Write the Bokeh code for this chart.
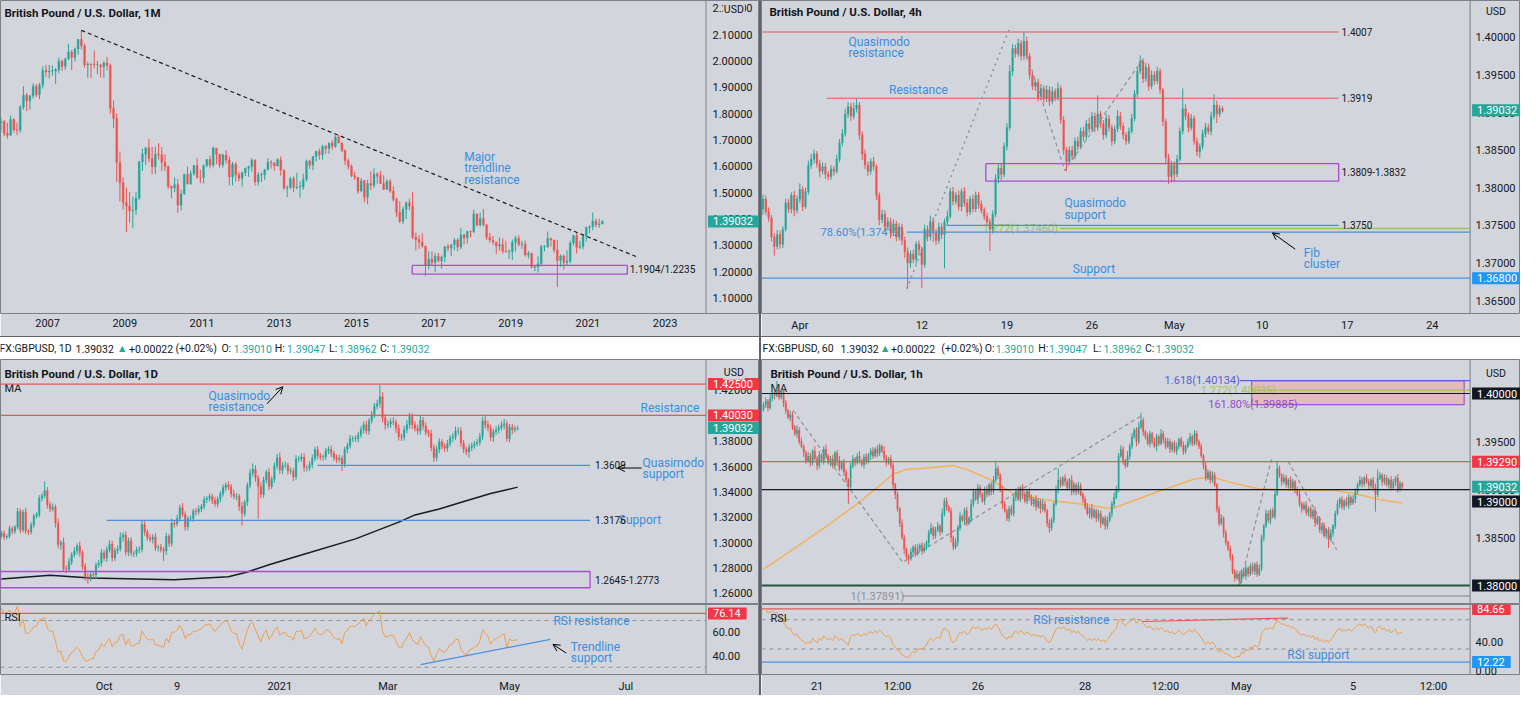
import numpy as np
from bokeh.plotting import figure
from bokeh.models import (Range1d, FixedTicker, PrintfTickFormatter, Label, Arrow,
                          OpenHead, ColumnDataSource, Spacer, Span)
from bokeh.layouts import row, column
from bokeh.core.properties import value
from bokeh.embed import file_html
from bokeh.resources import INLINE

# ============================ DATA ============================
# --- Monthly GBP/USD, Oct 2005 .. May 2021 (wicks in 0.001) ---
m_open0 = 1.766
m_close = [1.770, 1.725, 1.718,
           1.778, 1.739, 1.737, 1.825, 1.870, 1.849, 1.868, 1.904, 1.872, 1.909, 1.965, 1.958,
           1.962, 1.962, 1.967, 1.999, 1.979, 2.007, 2.034, 2.013, 2.045, 2.082, 2.058, 1.985,
           1.988, 1.986, 1.985, 1.985, 1.978, 1.992, 1.983, 1.820, 1.781, 1.614, 1.538, 1.462,
           1.449, 1.431, 1.434, 1.479, 1.617, 1.646, 1.670, 1.629, 1.598, 1.646, 1.644, 1.615,
           1.598, 1.523, 1.517, 1.530, 1.452, 1.495, 1.569, 1.534, 1.572, 1.603, 1.558, 1.557,
           1.603, 1.626, 1.604, 1.669, 1.646, 1.605, 1.643, 1.624, 1.559, 1.608, 1.568, 1.554,
           1.576, 1.592, 1.599, 1.623, 1.541, 1.568, 1.568, 1.587, 1.615, 1.613, 1.601, 1.625,
           1.586, 1.517, 1.519, 1.553, 1.519, 1.521, 1.521, 1.550, 1.619, 1.604, 1.637, 1.656,
           1.644, 1.675, 1.667, 1.688, 1.676, 1.711, 1.688, 1.660, 1.621, 1.600, 1.564, 1.558,
           1.506, 1.545, 1.483, 1.535, 1.528, 1.571, 1.562, 1.535, 1.512, 1.543, 1.505, 1.474,
           1.425, 1.391, 1.436, 1.461, 1.449, 1.331, 1.322, 1.312, 1.297, 1.224, 1.248, 1.234,
           1.258, 1.241, 1.255, 1.295, 1.289, 1.302, 1.320, 1.293, 1.340, 1.328, 1.352, 1.351,
           1.419, 1.377, 1.402, 1.377, 1.330, 1.320, 1.312, 1.297, 1.303, 1.277, 1.275, 1.275,
           1.311, 1.326, 1.303, 1.304, 1.263, 1.270, 1.216, 1.217, 1.230, 1.294, 1.294, 1.326,
           1.320, 1.282, 1.242, 1.259, 1.234, 1.240, 1.309, 1.337, 1.292, 1.295, 1.334, 1.367,
           1.370, 1.392, 1.378, 1.381, 1.3903]
m_wick_up = [15, 6, 40,
             15, 5, 27, 8, 34, 8, 2, 11, 8, 8, 15, 20,
             23, 21, 6, 14, 7, 6, 31, 8, 6, 1, 34, 8,
             9, 4, 54, 15, 5, 8, 24, 7, 30, 20, 42, 20,
             57, 53, 51, 23, 3, 20, 1, 34, 45, 28, 42, 29,
             31, 6, 4, 28, 22, 16, 3, 30, 12, 2, 27, 29,
             3, 2, 14, 6, 1, 1, 5, 19, 14, 9, 8, 10,
             3, 3, 3, 7, 4, 10, 9, 3, 16, 8, 1, 6,
             13, 1, 8, 7, 9, 54, 22, 22, 6, 6, 1, 4,
             11, 7, 5, 2, 11, 7, 8, 4, 4, 8, 7, 15,
             1, 10, 3, 14, 46, 22, 6, 20, 30, 8, 8, 19,
             7, 42, 10, 6, 16, 53, 17, 15, 33, 1, 29, 29,
             12, 13, 6, 1, 10, 1, 7, 7, 26, 3, 3, 4,
             16, 2, 22, 36, 3, 17, 16, 2, 27, 23, 40, 9,
             11, 9, 12, 13, 14, 8, 1, 8, 28, 7, 6, 26,
             2, 2, 38, 6, 6, 41, 8, 2, 11, 22, 6, 4,
             6, 32, 10, 20, 5]
m_wick_dn = [34, 11, 13,
             2, 11, 19, 9, 10, 40, 34, 10, 9, 17, 14, 18,
             25, 18, 49, 14, 17, 12, 4, 48, 15, 21, 14, 11,
             49, 50, 12, 35, 41, 42, 19, 20, 36, 74, 72, 27,
             99, 45, 66, 19, 7, 35, 41, 14, 28, 27, 18, 32,
             16, 8, 39, 15, 29, 19, 3, 4, 5, 7, 5, 21,
             22, 7, 12, 8, 38, 11, 10, 14, 32, 32, 26, 12,
             31, 13, 32, 19, 14, 14, 28, 20, 1, 22, 18, 2,
             21, 6, 34, 6, 18, 6, 40, 11, 8, 14, 19, 19,
             19, 19, 20, 20, 13, 6, 1, 6, 16, 12, 5, 10,
             11, 4, 20, 27, 19, 11, 30, 2, 2, 1, 6, 9,
             17, 7, 11, 36, 16, 8, 42, 26, 6, 40, 16, 14,
             36, 6, 30, 19, 12, 30, 21, 16, 8, 25, 22, 21,
             5, 6, 6, 6, 10, 10, 11, 31, 18, 8, 3, 27,
             31, 34, 7, 17, 7, 13, 4, 15, 21, 10, 17, 4,
             25, 10, 101, 25, 27, 9, 8, 10, 24, 6, 10, 20,
             22, 13, 11, 11, 2]
m_year_ticks = [2007, 2009, 2011, 2013, 2015, 2017, 2019, 2021, 2023]
m_price_ticks = [1.1, 1.2, 1.3, 1.4, 1.5, 1.6, 1.7, 1.8, 1.9, 2.0, 2.1, 2.2]
m_zone = (1.1904, 1.2235)
m_trend_end = (2022.29, 1.2546)

# --- 4h GBP/USD, 29 Mar .. 6 May 2021 (wicks in pips) ---
h4_open0 = 1.3772
h4_close = [1.3785, 1.3768, 1.3760, 1.3735, 1.3722, 1.3738, 1.3725, 1.3745, 1.3780, 1.3772,
            1.3790, 1.3770, 1.3785, 1.3798, 1.3775, 1.3795, 1.3830, 1.3838, 1.3845, 1.3832,
            1.3822, 1.3828, 1.3818, 1.3815, 1.3825, 1.3822, 1.3838, 1.3860, 1.3872, 1.3898,
            1.3908, 1.3895, 1.3905, 1.3910, 1.3870, 1.3845, 1.3830, 1.3822, 1.3835, 1.3828,
            1.3790, 1.3758, 1.3765, 1.3748, 1.3755, 1.3740, 1.3752, 1.3735, 1.3748, 1.3730,
            1.3715, 1.3700, 1.3712, 1.3705, 1.3725, 1.3718, 1.3698, 1.3745, 1.3735, 1.3755,
            1.3740, 1.3730, 1.3748, 1.3738, 1.3755, 1.3762, 1.3795, 1.3782, 1.3790, 1.3775,
            1.3795, 1.3780, 1.3768, 1.3785, 1.3772, 1.3790, 1.3778, 1.3770, 1.3762, 1.3755,
            1.3745, 1.3765, 1.3812, 1.3826, 1.3818, 1.3855, 1.3880, 1.3955, 1.3985, 1.3978,
            1.3992, 1.3975, 1.3995, 1.3975, 1.3950, 1.3935, 1.3940, 1.3920, 1.3932, 1.3918,
            1.3930, 1.3915, 1.3928, 1.3920, 1.3932, 1.3890, 1.3850, 1.3835, 1.3850, 1.3842,
            1.3862, 1.3855, 1.3875, 1.3868, 1.3885, 1.3878, 1.3895, 1.3880, 1.3898, 1.3885,
            1.3870, 1.3892, 1.3880, 1.3862, 1.3878, 1.3895, 1.3882, 1.3870, 1.3862, 1.3875,
            1.3892, 1.3925, 1.3955, 1.3968, 1.3945, 1.3960, 1.3935, 1.3950, 1.3942, 1.3955,
            1.3930, 1.3888, 1.3840, 1.3815, 1.3830, 1.3818, 1.3838, 1.3875, 1.3905, 1.3895,
            1.3880, 1.3892, 1.3862, 1.3848, 1.3855, 1.3872, 1.3880, 1.3875, 1.3895, 1.3910,
            1.3898, 1.3905, 1.3903]
h4_wick_up = [6, 5, 6, 4, 5, 6, 5, 4, 6, 5,
              4, 6, 5, 8, 4, 5, 6, 7, 6, 4,
              5, 6, 5, 4, 5, 4, 6, 5, 6, 7,
              6, 5, 8, 9, 4, 5, 6, 5, 4, 6,
              3, 4, 6, 5, 6, 5, 6, 4, 5, 4,
              5, 6, 5, 6, 4, 5, 4, 6, 5, 8,
              6, 5, 6, 5, 4, 8, 5, 6, 4, 6,
              4, 6, 5, 4, 6, 5, 4, 5, 4, 5,
              4, 5, 6, 5, 6, 5, 6, 8, 6, 5,
              6, 4, 12, 6, 4, 5, 4, 5, 6, 4,
              6, 5, 6, 4, 8, 4, 5, 4, 5, 6,
              5, 6, 5, 6, 5, 8, 6, 5, 25, 4,
              5, 6, 5, 4, 5, 8, 6, 5, 4, 5,
              6, 5, 6, 8, 4, 6, 5, 6, 5, 6,
              4, 3, 4, 5, 6, 5, 6, 5, 27, 6,
              5, 6, 4, 5, 4, 5, 6, 5, 6, 14,
              6, 5, 3]
h4_wick_dn = [8, 4, 5, 6, 12, 4, 6, 5, 3, 5,
              6, 8, 4, 5, 6, 3, 4, 5, 6, 5,
              8, 4, 6, 5, 4, 6, 3, 4, 5, 4,
              5, 6, 4, 5, 6, 8, 5, 6, 4, 5,
              6, 8, 5, 6, 4, 7, 4, 6, 5, 6,
              8, 34, 6, 5, 6, 8, 31, 4, 6, 5,
              12, 6, 4, 6, 45, 4, 3, 5, 4, 5,
              6, 5, 6, 4, 5, 4, 6, 4, 5, 4,
              29, 6, 4, 6, 8, 4, 5, 4, 6, 5,
              4, 6, 5, 4, 6, 5, 6, 5, 4, 5,
              4, 6, 4, 5, 4, 5, 6, 13, 4, 5,
              4, 5, 4, 6, 4, 5, 4, 6, 4, 5,
              6, 4, 5, 6, 4, 4, 5, 6, 5, 4,
              3, 4, 5, 4, 6, 4, 6, 4, 5, 4,
              5, 6, 8, 10, 8, 10, 4, 3, 4, 5,
              6, 4, 5, 6, 8, 4, 5, 4, 5, 4,
              12, 4, 3]
h4_tick_idx = [13, 56, 86, 116, 145, 176, 206, 236]
h4_tick_lbl = ["Apr", "12", "19", "26", "May", "10", "17", "24"]
h4_price_ticks = [1.365, 1.370, 1.375, 1.380, 1.385, 1.390, 1.395, 1.400]
h4_qm_res = 1.4007
h4_res = 1.3919
h4_zone = (1.3809, 1.3832)
h4_qm_sup = 1.3750
h4_fib786 = 1.37412
h4_fib1272 = 1.37460
h4_sup = 1.3680

# --- Daily GBP/USD, 10 Aug 2020 .. 6 May 2021 (wicks in pips) ---
d_pre = [1.2540, 1.2560, 1.2585, 1.2570, 1.2565, 1.2650, 1.2720, 1.2740, 1.2735, 1.2790,
         1.2880, 1.2935, 1.2990, 1.3095, 1.3085, 1.3080, 1.3080, 1.3140, 1.3140, 1.3055]
d_close = [1.3075, 1.3045, 1.3050, 1.3110, 1.3090, 1.3125, 1.3245, 1.3100, 1.3240, 1.3090,
           1.3085, 1.3140, 1.3210, 1.3220, 1.3350, 1.3370, 1.3410, 1.3300, 1.3265, 1.3280,
           1.3155, 1.2985, 1.3000, 1.2795, 1.2790, 1.2850, 1.2905, 1.2935, 1.2975, 1.2920,
           1.2815, 1.2730, 1.2725, 1.2750, 1.2745, 1.2825, 1.2840, 1.2920, 1.2880, 1.2945,
           1.2990, 1.2880, 1.2940, 1.2950, 1.3045, 1.3060, 1.2925, 1.3015, 1.2915, 1.2915,
           1.2945, 1.2945, 1.3145, 1.3085, 1.3040, 1.3025, 1.3045, 1.2960, 1.2965, 1.2945,
           1.2935, 1.3050, 1.2995, 1.3155, 1.3150, 1.3190, 1.3275, 1.3225, 1.3125, 1.3190,
           1.3190, 1.3250, 1.3245, 1.3265, 1.3285, 1.3340, 1.3350, 1.3365, 1.3335, 1.3305,
           1.3345, 1.3385, 1.3435, 1.3455, 1.3440, 1.3385, 1.3365, 1.3365, 1.3285, 1.3230,
           1.3320, 1.3450, 1.3550, 1.3580, 1.3510, 1.3445, 1.3380, 1.3495, 1.3555, 1.3445,
           1.3500, 1.3605, 1.3670, 1.3570, 1.3610, 1.3610, 1.3565, 1.3565, 1.3520, 1.3660,
           1.3660, 1.3675, 1.3590, 1.3590, 1.3615, 1.3665, 1.3735, 1.3685, 1.3675, 1.3675,
           1.3725, 1.3735, 1.3705, 1.3670, 1.3655, 1.3665, 1.3620, 1.3735, 1.3765, 1.3820,
           1.3820, 1.3820, 1.3850, 1.3890, 1.3930, 1.3880, 1.3960, 1.4010, 1.4075, 1.4095,
           1.4150, 1.3985, 1.3930, 1.3935, 1.3955, 1.3950, 1.3900, 1.3835, 1.3830, 1.3890,
           1.3930, 1.3995, 1.3930, 1.3900, 1.3880, 1.3965, 1.3920, 1.3870, 1.3860, 1.3750,
           1.3670, 1.3735, 1.3795, 1.3760, 1.3745, 1.3780, 1.3825, 1.3835, 1.3880, 1.3880,
           1.3785, 1.3735, 1.3715, 1.3750, 1.3765, 1.3780, 1.3790, 1.3835, 1.3960, 1.3930,
           1.3905, 1.3830, 1.3875, 1.3890, 1.3905, 1.3925, 1.3940, 1.3820, 1.3910, 1.3890,
           1.3900, 1.3903]
d_wick_up = [18, 22, 15, 25, 20, 14, 30, 24, 20, 35,
             15, 22, 18, 20, 25, 18, 72, 28, 25, 30,
             20, 35, 22, 40, 25, 30, 20, 28, 22, 35,
             18, 25, 30, 22, 28, 20, 25, 30, 22, 26,
             30, 25, 20, 28, 35, 22, 30, 25, 28, 20,
             22, 26, 31, 25, 20, 28, 22, 30, 18, 25,
             22, 28, 20, 35, 18, 30, 25, 38, 22, 20,
             25, 18, 22, 28, 20, 25, 18, 22, 20, 25,
             18, 22, 25, 20, 28, 22, 30, 25, 20, 35,
             20, 25, 28, 45, 30, 22, 30, 25, 20, 35,
             22, 28, 30, 40, 25, 30, 20, 28, 25, 30,
             22, 28, 30, 20, 25, 30, 22, 28, 25, 20,
             22, 25, 30, 20, 25, 28, 22, 20, 25, 28,
             20, 25, 22, 28, 25, 30, 22, 28, 25, 30,
             91, 35, 28, 30, 25, 35, 22, 30, 25, 28,
             35, 30, 25, 28, 30, 35, 25, 28, 22, 30,
             25, 30, 28, 22, 25, 30, 22, 28, 35, 30,
             28, 25, 22, 30, 25, 22, 28, 30, 32, 49,
             30, 25, 22, 28, 25, 30, 36, 22, 25, 28,
             22, 18]
d_wick_dn = [20, 25, 18, 15, 22, 20, 18, 25, 20, 18,
             25, 20, 22, 18, 20, 25, 20, 30, 25, 20,
             35, 30, 40, 25, 30, 20, 25, 22, 28, 30,
             25, 30, 49, 28, 25, 30, 22, 28, 25, 30,
             22, 30, 25, 28, 20, 35, 25, 30, 22, 28,
             25, 30, 22, 28, 25, 20, 30, 25, 28, 22,
             80, 30, 28, 25, 30, 22, 25, 20, 30, 28,
             22, 25, 28, 20, 25, 22, 28, 25, 30, 22,
             25, 28, 22, 30, 25, 28, 22, 30, 35, 95,
             25, 30, 22, 28, 30, 257, 30, 25, 28, 30,
             22, 28, 25, 30, 28, 22, 30, 25, 35, 28,
             25, 22, 30, 28, 25, 30, 22, 28, 25, 30,
             22, 28, 30, 25, 28, 22, 54, 25, 30, 22,
             28, 25, 30, 22, 28, 25, 30, 22, 28, 25,
             30, 35, 40, 28, 30, 25, 35, 30, 28, 25,
             28, 30, 35, 25, 30, 28, 30, 25, 28, 30,
             35, 28, 30, 25, 30, 28, 22, 30, 25, 28,
             30, 28, 25, 45, 28, 25, 22, 25, 28, 30,
             28, 30, 35, 25, 28, 22, 30, 25, 28, 35,
             22, 15]
d_ma_idx = [0, 18, 33, 64, 84, 91, 99, 111, 131, 147, 153, 162, 172, 181, 191]
d_ma_val = [1.2714, 1.2743, 1.2722, 1.2709, 1.2732, 1.2769, 1.2826, 1.2903, 1.3030, 1.3162,
            1.3219, 1.3265, 1.3330, 1.3387, 1.3438]
d_tick_idx = [38, 65, 103, 143, 188, 231]
d_tick_lbl = ["Oct", "9", "2021", "Mar", "May", "Jul"]
d_price_ticks = [1.26, 1.28, 1.30, 1.32, 1.34, 1.36, 1.38, 1.40, 1.42]
d_qm_res = 1.4250
d_res = 1.4003
d_qm_sup = 1.3609
d_sup = 1.3176
d_zone = (1.2645, 1.2773)
d_rsi_res = 76.14

# --- Hourly GBP/USD, 20 Apr .. 6 May 2021 (wicks in pips) ---
h_pre = [1.3880, 1.3895, 1.3890, 1.3905, 1.3912, 1.3908, 1.3920, 1.3932, 1.3928, 1.3940,
         1.3948, 1.3942, 1.3955, 1.3962, 1.3958, 1.3966, 1.3972, 1.3968, 1.3978, 1.3983]
h_close = [1.3988, 1.3992, 1.3985, 1.3995, 1.4002, 1.3998, 1.4005, 1.3996, 1.4003, 1.3990,
           1.3982, 1.3975, 1.3978, 1.3965, 1.3958, 1.3962, 1.3950, 1.3945, 1.3938, 1.3930,
           1.3935, 1.3928, 1.3940, 1.3932, 1.3925, 1.3936, 1.3930, 1.3942, 1.3935, 1.3928,
           1.3932, 1.3925, 1.3938, 1.3930, 1.3922, 1.3928, 1.3918, 1.3910, 1.3903, 1.3925,
           1.3932, 1.3928, 1.3935, 1.3930, 1.3926, 1.3934, 1.3929, 1.3936, 1.3940, 1.3935,
           1.3942, 1.3938, 1.3945, 1.3940, 1.3933, 1.3928, 1.3932, 1.3925, 1.3905, 1.3895,
           1.3880, 1.3865, 1.3850, 1.3838, 1.3830, 1.3828, 1.3835, 1.3840, 1.3833, 1.3838,
           1.3842, 1.3836, 1.3840, 1.3845, 1.3855, 1.3860, 1.3852, 1.3858, 1.3862, 1.3856,
           1.3875, 1.3888, 1.3882, 1.3878, 1.3850, 1.3840, 1.3845, 1.3860, 1.3872, 1.3868,
           1.3878, 1.3865, 1.3870, 1.3885, 1.3898, 1.3890, 1.3902, 1.3895, 1.3888, 1.3900,
           1.3895, 1.3905, 1.3898, 1.3910, 1.3922, 1.3915, 1.3900, 1.3885, 1.3878, 1.3870,
           1.3880, 1.3875, 1.3892, 1.3898, 1.3890, 1.3902, 1.3895, 1.3888, 1.3898, 1.3892,
           1.3885, 1.3890, 1.3882, 1.3888, 1.3880, 1.3885, 1.3878, 1.3865, 1.3860, 1.3868,
           1.3885, 1.3900, 1.3910, 1.3905, 1.3912, 1.3908, 1.3902, 1.3910, 1.3898, 1.3905,
           1.3898, 1.3904, 1.3895, 1.3890, 1.3882, 1.3875, 1.3880, 1.3872, 1.3878, 1.3870,
           1.3875, 1.3865, 1.3870, 1.3862, 1.3868, 1.3875, 1.3885, 1.3892, 1.3900, 1.3935,
           1.3942, 1.3930, 1.3925, 1.3935, 1.3945, 1.3955, 1.3962, 1.3950, 1.3965, 1.3972,
           1.3960, 1.3955, 1.3948, 1.3958, 1.3950, 1.3945, 1.3955, 1.3948, 1.3958, 1.3952,
           1.3945, 1.3950, 1.3942, 1.3948, 1.3940, 1.3945, 1.3952, 1.3946, 1.3940, 1.3945,
           1.3950, 1.3955, 1.3948, 1.3958, 1.3950, 1.3945, 1.3935, 1.3925, 1.3912, 1.3918,
           1.3910, 1.3915, 1.3905, 1.3880, 1.3865, 1.3870, 1.3855, 1.3845, 1.3838, 1.3830,
           1.3815, 1.3808, 1.3812, 1.3805, 1.3815, 1.3810, 1.3818, 1.3812, 1.3820, 1.3815,
           1.3822, 1.3812, 1.3818, 1.3850, 1.3862, 1.3875, 1.3868, 1.3878, 1.3872, 1.3895,
           1.3922, 1.3915, 1.3908, 1.3912, 1.3905, 1.3910, 1.3902, 1.3908, 1.3900, 1.3895,
           1.3885, 1.3880, 1.3884, 1.3876, 1.3880, 1.3872, 1.3878, 1.3865, 1.3870, 1.3858,
           1.3862, 1.3852, 1.3858, 1.3848, 1.3855, 1.3862, 1.3875, 1.3885, 1.3890, 1.3882,
           1.3888, 1.3884, 1.3892, 1.3886, 1.3890, 1.3898, 1.3905, 1.3910, 1.3906, 1.3912,
           1.3908, 1.3904, 1.3910, 1.3902, 1.3895, 1.3912, 1.3915, 1.3908, 1.3912, 1.3905,
           1.3910, 1.3902, 1.3908, 1.3912, 1.3900, 1.3906, 1.3903]
h_wick_up = [3, 4, 2, 5, 4, 3, 8, 4, 3, 2,
             3, 2, 4, 3, 2, 5, 3, 4, 2, 3,
             4, 3, 2, 5, 3, 4, 2, 3, 5, 2,
             3, 4, 2, 3, 5, 2, 4, 3, 2, 3,
             4, 2, 3, 5, 2, 3, 4, 2, 3, 4,
             2, 4, 3, 2, 5, 3, 2, 4, 3, 2,
             3, 2, 4, 3, 2, 3, 4, 2, 3, 5,
             2, 3, 4, 2, 3, 5, 2, 3, 4, 2,
             5, 3, 4, 2, 3, 2, 4, 3, 5, 2,
             3, 4, 2, 5, 3, 2, 4, 3, 2, 3,
             4, 2, 3, 4, 8, 3, 2, 4, 3, 2,
             3, 4, 2, 3, 5, 2, 4, 3, 2, 4,
             3, 2, 4, 3, 2, 5, 3, 2, 4, 3,
             2, 4, 12, 3, 2, 4, 3, 2, 5, 3,
             2, 4, 3, 2, 3, 4, 2, 5, 3, 2,
             4, 3, 2, 3, 4, 2, 3, 5, 4, 3,
             4, 3, 2, 5, 3, 4, 2, 3, 5, 8,
             3, 2, 4, 3, 2, 4, 3, 2, 5, 3,
             2, 4, 3, 2, 3, 4, 2, 3, 4, 2,
             3, 4, 2, 4, 3, 2, 3, 2, 4, 3,
             2, 4, 3, 2, 3, 4, 2, 3, 2, 4,
             3, 2, 4, 3, 2, 3, 4, 2, 3, 4,
             2, 3, 4, 3, 2, 4, 3, 2, 3, 4,
             8, 3, 2, 4, 3, 2, 4, 3, 2, 3,
             4, 2, 3, 4, 2, 3, 2, 4, 3, 2,
             3, 4, 2, 3, 4, 2, 3, 4, 2, 3,
             2, 4, 3, 2, 4, 3, 2, 4, 3, 2,
             4, 3, 2, 3, 4, 9, 3, 2, 4, 3,
             2, 4, 3, 2, 4, 3, 2]
h_wick_dn = [2, 3, 4, 2, 3, 4, 2, 3, 2, 4,
             3, 2, 4, 3, 2, 4, 3, 2, 4, 3,
             2, 4, 3, 2, 5, 3, 2, 4, 3, 2,
             4, 3, 2, 5, 3, 2, 4, 3, 18, 2,
             3, 4, 2, 3, 2, 4, 3, 2, 5, 3,
             2, 4, 3, 2, 3, 4, 2, 3, 4, 5,
             3, 4, 2, 5, 3, 6, 2, 4, 3, 2,
             3, 4, 2, 3, 5, 2, 4, 3, 2, 4,
             2, 3, 4, 2, 5, 3, 2, 4, 3, 2,
             4, 3, 2, 4, 3, 2, 5, 3, 2, 4,
             3, 2, 4, 3, 2, 4, 3, 5, 2, 3,
             4, 2, 3, 4, 2, 3, 5, 2, 3, 4,
             2, 3, 4, 2, 5, 3, 2, 4, 5, 3,
             3, 2, 4, 3, 2, 4, 3, 2, 4, 3,
             4, 3, 2, 4, 3, 2, 5, 3, 2, 4,
             3, 5, 2, 4, 3, 2, 4, 3, 2, 3,
             2, 4, 3, 2, 4, 3, 2, 5, 3, 2,
             4, 3, 2, 4, 3, 2, 5, 3, 2, 4,
             3, 2, 4, 3, 2, 4, 3, 2, 4, 3,
             2, 4, 3, 2, 4, 3, 2, 4, 3, 2,
             4, 3, 2, 4, 3, 2, 5, 3, 2, 4,
             3, 4, 2, 5, 3, 2, 4, 3, 2, 3,
             4, 3, 2, 3, 4, 2, 3, 4, 2, 3,
             2, 3, 4, 2, 3, 4, 2, 3, 4, 2,
             3, 4, 2, 3, 4, 2, 3, 4, 2, 3,
             4, 2, 3, 9, 2, 4, 3, 2, 4, 3,
             3, 2, 4, 3, 2, 4, 3, 2, 4, 3,
             2, 4, 3, 2, 18, 3, 2, 4, 3, 2,
             4, 3, 2, 4, 3, 2, 3]
h_ma_idx = [0, 14, 29, 43, 52, 58, 64, 76, 85, 91, 101, 112, 127, 142, 156, 164, 178, 193,
            201, 208, 221, 238, 256, 266, 277, 286]
h_ma_val = [1.3817, 1.3839, 1.3863, 1.3887, 1.3904, 1.3916, 1.3921, 1.3923, 1.3925, 1.3921,
            1.3911, 1.3896, 1.3889, 1.3885, 1.3880, 1.3887, 1.3899, 1.3911, 1.3913, 1.3908,
            1.3901, 1.3899, 1.3899, 1.3895, 1.3889, 1.3886]
h_tick_idx = [24, 60, 96, 144, 180, 214, 264, 300]
h_tick_lbl = ["21", "12:00", "26", "28", "12:00", "May", "5", "12:00"]
h_price_ticks = [1.380, 1.385, 1.390, 1.395, 1.400]
h_round_hi = 1.4000
h_res = 1.3929
h_round_mid = 1.3900
h_round_lo = 1.3800
h_fib_1 = 1.37891
h_fib_1618 = 1.40134
h_fib_1272 = 1.40035
h_fib_1618p = 1.39885
h_rsi_res = 84.66
h_rsi_sup = 12.22

# ============================ STYLE ============================
FONT = "Roboto"
BG = "#d2d5db"
FRAME = "#7c7f88"
SEP = "#5f626b"
TXT = "#131722"
UP = "#26a69a"
DN = "#ef5350"
BLUE_T = "#3a8de0"
BLUE_L = "#4a90e2"
RED_L = "#e05a5a"
PURPLE = "#a64fd0"
ORANGE = "#ef9d4a"
GREY_D = "#8e9097"

LW, RW = 759, 759


def make_fig(w, h, xr, yr, bottom, xaxis, standoff, xsplit):
    p = figure(width=w, height=h, x_range=Range1d(*xr), y_range=Range1d(*yr),
               output_backend="svg", toolbar_location=None,
               y_axis_location="right", x_axis_location=("below" if xaxis else None),
               min_border_left=0, min_border_top=0, min_border_right=0,
               min_border_bottom=bottom)
    p.background_fill_color = BG
    p.border_fill_color = BG
    p.outline_line_color = FRAME
    p.outline_line_width = 1
    p.grid.grid_line_color = None
    for ax in p.axis:
        ax.major_tick_line_color = None
        ax.minor_tick_line_color = None
        ax.major_tick_out = 0
        ax.major_tick_in = 0
        ax.axis_line_color = None
        ax.major_label_text_font = FONT
        ax.major_label_text_font_size = "11px"
        ax.major_label_text_color = TXT
        ax.major_label_standoff = 5
    p.yaxis.major_label_standoff = standoff
    p.add_layout(Span(location=xsplit, dimension="height", line_color=FRAME, line_width=1))
    return p


def candles(p, xs, open0, closes, wu, wd, unit, width, minbody):
    c = np.array(closes, dtype=float)
    o = np.concatenate([[open0], c[:-1]])
    top = np.maximum(o, c)
    bot = np.minimum(o, c)
    hi = top + np.array(wu, dtype=float) * unit
    lo = bot - np.array(wd, dtype=float) * unit
    top = np.where(top - bot < minbody, bot + minbody, top)
    col = [UP if cc >= oo else DN for oo, cc in zip(o, c)]
    src = ColumnDataSource(dict(x=list(xs), hi=hi, lo=lo, top=top, bot=bot, col=col))
    p.segment(x0="x", y0="hi", x1="x", y1="lo", source=src, line_color="col", line_width=1)
    p.vbar(x="x", width=width, top="top", bottom="bot", source=src,
           fill_color="col", line_color="col", line_width=0.3)


def texts(p, xs, ys, ts, color, size="12px", align="left", style="normal"):
    p.text(x=xs, y=ys, text=ts, text_font=value(FONT), text_font_size=size,
           text_color=color, text_align=align, text_baseline="middle",
           text_font_style=style)


def badge(p, x, y, text, bg, fg="white"):
    p.add_layout(Label(x=x, y=y, text=text, text_color=fg, text_font=FONT,
                       text_font_size="11px", text_baseline="middle", text_align="left",
                       background_fill_color=bg, background_fill_alpha=1.0,
                       padding=dict(left=5, right=6, top=2, bottom=2)))


def usd(p, x, y):
    p.add_layout(Label(x=x, y=y, text="USD", text_color=TXT, text_font=FONT,
                       text_font_size="10.5px", text_baseline="middle", text_align="left",
                       background_fill_color=BG, background_fill_alpha=1.0, padding=1))


def hline(p, x0, x1, y, color, width=1.0, dash="solid"):
    p.segment(x0=[x0], y0=[y], x1=[x1], y1=[y], line_color=color, line_width=width,
              line_dash=dash)


def arrow(p, xs, ys, xe, ye):
    p.add_layout(Arrow(end=OpenHead(size=7, line_color="black", line_width=1),
                       x_start=xs, y_start=ys, x_end=xe, y_end=ye,
                       line_color="black", line_width=1))


def rsi_wilder(closes, n=14):
    out = [np.nan] * len(closes)
    gains, losses = [], []
    ag = al = None
    for k in range(1, len(closes)):
        ch = closes[k] - closes[k - 1]
        g, l = max(ch, 0.0), max(-ch, 0.0)
        if k <= n:
            gains.append(g)
            losses.append(l)
            if k == n:
                ag, al = sum(gains) / n, sum(losses) / n
        else:
            ag = (ag * (n - 1) + g) / n
            al = (al * (n - 1) + l) / n
        if ag is not None:
            out[k] = 100.0 if al == 0 else 100.0 - 100.0 / (1.0 + ag / al)
    return out


# ============================ MONTHLY (top-left) ============================
MX = lambda px: 2005.78 + px / 38.95
MY = lambda py: 2.1 - (py - 35) / 270.0
pm = make_fig(LW, 336, (MX(0), MX(766)), (MY(321), MY(0)), 23, True, -47, MX(712))
pm.yaxis.ticker = FixedTicker(ticks=m_price_ticks)
pm.yaxis.formatter = PrintfTickFormatter(format="%.5f")
pm.xaxis.ticker = FixedTicker(ticks=m_year_ticks)
pm.xaxis.formatter = PrintfTickFormatter(format="%d")
x_m = [2005 + (9 + k) / 12 + 1 / 24 for k in range(len(m_close))]
texts(pm, [MX(4)], [MY(12.5)], ["British Pound / U.S. Dollar, 1M"], TXT, "11.5px", style="bold")
texts(pm, [MX(468)] * 3, [MY(160), MY(172), MY(184)], ["Major", "trendline", "resistance"], BLUE_T)
candles(pm, x_m, m_open0, m_close, m_wick_up, m_wick_dn, 0.001, 0.05, 0.002)
pm.quad(left=[MX(415.5)], right=[MX(632.6)], bottom=[m_zone[0]], top=[m_zone[1]],
        fill_alpha=0, line_color=PURPLE, line_width=1.3)
texts(pm, [MX(635)], [(m_zone[0] + m_zone[1]) / 2], ["1.1904/1.2235"], TXT, "10px")
m_hi = [max(o, c) + u * 0.001 for o, c, u in zip([m_open0] + m_close[:-1], m_close, m_wick_up)]
k_pk = int(np.argmax(m_hi))
pm.line([x_m[k_pk], m_trend_end[0]], [m_hi[k_pk], m_trend_end[1]], line_color="#1e1e1e",
        line_width=1.2, line_dash="4 3")
badge(pm, MX(714), m_close[-1], "1.39032", UP)
usd(pm, MX(729), MY(9))

# ============================ 4H (top-right) ============================
FX4 = lambda px: (px - 769.5) / 2.87
FY4 = lambda py: 1.40 - (py - 37.7) / 7720.0
p4 = make_fig(RW, 336, (FX4(768), FX4(1536)), (FY4(321), FY4(0)), 23, True, -45, FX4(1485))
p4.yaxis.ticker = FixedTicker(ticks=h4_price_ticks)
p4.yaxis.formatter = PrintfTickFormatter(format="%.5f")
p4.xaxis.ticker = FixedTicker(ticks=h4_tick_idx)
p4.xaxis.major_label_overrides = {t: l for t, l in zip(h4_tick_idx, h4_tick_lbl)}
x_4 = list(range(len(h4_close)))
texts(p4, [FX4(776)], [FY4(12.3)], ["British Pound / U.S. Dollar, 4h"], TXT, "11.5px", style="bold")
texts(p4, [FX4(856)] * 2, [FY4(42.7), FY4(54.3)], ["Quasimodo", "resistance"], BLUE_T)
texts(p4, [FX4(897)], [FY4(91.7)], ["Resistance"], BLUE_T)
texts(p4, [FX4(1074.5)] * 2, [FY4(208), FY4(219.7)], ["Quasimodo", "support"], BLUE_T)
texts(p4, [FX4(1083)], [FY4(275.3)], ["Support"], BLUE_T)
texts(p4, [FX4(1316.6)] * 2, [FY4(259), FY4(270.7)], ["Fib", "cluster"], BLUE_T)
texts(p4, [FX4(912)], [h4_fib786], ["78.60%(1.37412)"], BLUE_T, "11px", align="right")
texts(p4, [FX4(1068)], [h4_fib1272], ["1.272(1.37460)"], "#9cc25a", "11px", align="right")
candles(p4, x_4, h4_open0, h4_close, h4_wick_up, h4_wick_dn, 0.0001, 0.62, 0.00006)
hline(p4, FX4(768), FX4(1352), h4_qm_res, RED_L, 1.2)
hline(p4, FX4(834), FX4(1352), h4_res, RED_L, 1.2)
p4.quad(left=[FX4(995)], right=[FX4(1352)], bottom=[h4_zone[0]], top=[h4_zone[1]],
        fill_alpha=0, line_color=PURPLE, line_width=1.3)
hline(p4, FX4(955), FX4(1352), h4_qm_sup, BLUE_L, 1.2)
hline(p4, FX4(915), FX4(1485), h4_fib786, BLUE_L, 1.2)
hline(p4, FX4(1070), FX4(1485), h4_fib1272, "#9cc25a", 1.5)
hline(p4, FX4(768), FX4(1485), h4_sup, BLUE_L, 1.2)
texts(p4, [FX4(1355)] * 4, [h4_qm_res, h4_res, (h4_zone[0] + h4_zone[1]) / 2, h4_qm_sup],
      ["1.4007", "1.3919", "1.3809-1.3832", "1.3750"], TXT, "10px")
p4.line([FX4(915), FX4(1018.5)], [1.3666, 1.4010], line_color=GREY_D, line_width=1.5,
        line_dash="dotted")
p4.line([FX4(1037), FX4(1075), FX4(1153.5)], [1.3975, 1.3823, 1.3970], line_color=GREY_D,
        line_width=1.2, line_dash="4 3")
arrow(p4, FX4(1308), FY4(255), FX4(1285), FY4(238.3))
badge(p4, FX4(1487), h4_close[-1], "1.39032", UP)
badge(p4, FX4(1487), h4_sup, "1.36800", "#2196f3")
usd(p4, FX4(1500), FY4(11))

# ============================ DAILY (bottom-left) ============================
DX = lambda px: (px - 0.9) / 2.728
DY = lambda py: 1.38 - (py - 451) / 1290.0
RY = lambda py: 60 + (646.7 - py) / 1.25
pdm = make_fig(LW, 245, (DX(0), DX(766)), (DY(617), DY(368)), 0, False, -47, DX(712))
pdm.yaxis.ticker = FixedTicker(ticks=d_price_ticks)
pdm.yaxis.formatter = PrintfTickFormatter(format="%.5f")
x_d = list(range(len(d_close)))
texts(pdm, [DX(4)], [DY(382.7)], ["British Pound / U.S. Dollar, 1D"], TXT, "11.5px", style="bold")
texts(pdm, [DX(4)], [DY(397.7)], ["MA"], TXT, "11px")
texts(pdm, [DX(210)] * 2, [DY(405), DY(416.7)], ["Quasimodo", "resistance"], BLUE_T)
texts(pdm, [DX(646)], [DY(417.3)], ["Resistance"], BLUE_T)
texts(pdm, [DX(648)] * 2, [DY(472.7), DY(484.3)], ["Quasimodo", "support"], BLUE_T)
texts(pdm, [DX(624)], [d_sup], ["Support"], BLUE_T)
pdm.line(d_ma_idx, d_ma_val, line_color="#1b1b1b", line_width=1.5)
candles(pdm, x_d, d_pre[-1], d_close, d_wick_up, d_wick_dn, 0.0001, 0.62, 0.0002)
hline(pdm, DX(0), DX(712), d_qm_res, RED_L, 1.2)
hline(pdm, DX(0), DX(712), d_res, RED_L, 1.2)
hline(pdm, DX(320), DX(595), d_qm_sup, BLUE_L, 1.2)
hline(pdm, DX(107), DX(595), d_sup, BLUE_L, 1.2)
pdm.quad(left=[DX(0)], right=[DX(595)], bottom=[d_zone[0]], top=[d_zone[1]],
         fill_alpha=0, line_color=PURPLE, line_width=1.3)
texts(pdm, [DX(600)] * 3, [d_qm_sup, d_sup, (d_zone[0] + d_zone[1]) / 2],
      ["1.3609", "1.3176", "1.2645-1.2773"], TXT, "10px")
arrow(pdm, DX(269), DY(413), DX(285), DY(395.7))
arrow(pdm, DX(647), DY(478.3), DX(623), DY(478.3))
badge(pdm, DX(714), d_qm_res, "1.42500", "#f23645")
badge(pdm, DX(714), d_res, "1.40030", "#f23645")
badge(pdm, DX(714), d_close[-1], "1.39032", UP)
usd(pdm, DX(729), DY(381))

pdr = make_fig(LW, 91, (DX(0), DX(766)), (RY(692), RY(617)), 18, True, -47, DX(712))
pdr.yaxis.ticker = FixedTicker(ticks=[40, 60])
pdr.yaxis.formatter = PrintfTickFormatter(format="%.2f")
pdr.xaxis.ticker = FixedTicker(ticks=d_tick_idx)
pdr.xaxis.major_label_overrides = {t: l for t, l in zip(d_tick_idx, d_tick_lbl)}
d_rsi = rsi_wilder(d_pre + d_close)[len(d_pre):]
hline(pdr, DX(0), DX(712), 70, GREY_D, 1, "4 4")
hline(pdr, DX(0), DX(712), 30, GREY_D, 1, "4 4")
hline(pdr, DX(0), DX(712), d_rsi_res, RED_L, 1.2)
pdr.line(x_d, d_rsi, line_color=ORANGE, line_width=1)
texts(pdr, [DX(4)], [RY(630.7)], ["RSI"], TXT, "11px")
texts(pdr, [DX(558)], [RY(635)], ["RSI resistance"], BLUE_T)
texts(pdr, [DX(575.6)] * 2, [RY(662), RY(674.3)], ["Trendline", "support"], BLUE_T)
pdr.line([DX(424), DX(555)], [32.3, 53.9], line_color=BLUE_L, line_width=1.2)
arrow(pdr, DX(571), RY(669), DX(557.5), RY(659.7))
badge(pdr, DX(714), d_rsi_res, "76.14", "#f23645")

# ============================ HOURLY (bottom-right) ============================
HX = lambda px: (px - 770) / 2.26
HY = lambda py: 1.39 - (py - 500.7) / 9800.0
HRY = lambda py: (688.3 - py) / 0.775
ph = make_fig(RW, 245, (HX(768), HX(1536)), (HY(618), HY(368)), 0, False, -45, HX(1485))
ph.yaxis.ticker = FixedTicker(ticks=h_price_ticks)
ph.yaxis.formatter = PrintfTickFormatter(format="%.5f")
x_h = list(range(len(h_close)))
texts(ph, [HX(777)], [HY(382.7)], ["British Pound / U.S. Dollar, 1h"], TXT, "11.5px", style="bold")
texts(ph, [HX(777)], [HY(397.7)], ["MA"], TXT, "11px")
ph.quad(left=[HX(1264)], right=[HX(1479)], bottom=[h_fib_1618p], top=[h_fib_1618],
        fill_color="#f2a2a2", fill_alpha=0.5, line_color=PURPLE, line_width=1.2)
hline(ph, HX(1252), HX(1485), h_fib_1618, "#5a5fd0", 1.2)
hline(ph, HX(1264), HX(1485), h_fib_1272, "#a8c45a", 1.5)
texts(ph, [HX(1252)], [h_fib_1618], ["1.618(1.40134)"], "#5a5fd0", "11px", align="right")
texts(ph, [HX(1212.5)], [h_fib_1272], ["1.272(1.40035)"], "#a8c45a", "11px")
texts(ph, [HX(1220)], [h_fib_1618p], ["161.80%(1.39885)"], "#9a48d0", "11px")
texts(ph, [HX(858)], [h_fib_1], ["1(1.37891)"], GREY_D, "11px")
hline(ph, HX(910), HX(1485), h_fib_1, "#9a9ca3", 1.5)
ph.line(h_ma_idx, h_ma_val, line_color="#f2b25c", line_width=1.5)
ph.line([HX(800), HX(911), HX(1153)], [1.39823, 1.38242, 1.39772], line_color=GREY_D,
        line_width=1.2, line_dash="4 3")
ph.line([HX(1252), HX(1284)], [1.38007, 1.39313], line_color=GREY_D, line_width=1.2,
        line_dash="4 3")
ph.line([HX(1301), HX(1350)], [1.39293, 1.38374], line_color=GREY_D, line_width=1.2,
        line_dash="4 3")
candles(ph, x_h, h_pre[-1], h_close, h_wick_up, h_wick_dn, 0.0001, 0.62, 0.00004)
hline(ph, HX(768), HX(1485), h_round_hi, "#131722", 1.2)
hline(ph, HX(768), HX(1485), h_res, RED_L, 1.2)
hline(ph, HX(768), HX(1485), h_round_mid, "#131722", 1.2)
hline(ph, HX(768), HX(1485), h_round_lo, "#24573f", 2)
badge(ph, HX(1487), h_round_hi, "1.40000", "#131722")
badge(ph, HX(1487), h_res, "1.39290", "#f23645")
badge(ph, HX(1487), HY(513), "1.39000", "#131722")
badge(ph, HX(1487), h_close[-1], "1.39032", UP)
badge(ph, HX(1487), h_round_lo, "1.38000", "#131722")
usd(ph, HX(1500), HY(382.7))

phr = make_fig(RW, 91, (HX(768), HX(1536)), (HRY(692), HRY(618)), 18, True, -45, HX(1485))
phr.yaxis.ticker = FixedTicker(ticks=[0, 40])
phr.yaxis.formatter = PrintfTickFormatter(format="%.2f")
phr.xaxis.ticker = FixedTicker(ticks=h_tick_idx)
phr.xaxis.major_label_overrides = {t: l for t, l in zip(h_tick_idx, h_tick_lbl)}
h_rsi = rsi_wilder(h_pre + h_close)[len(h_pre):]
hline(phr, HX(768), HX(1485), 70, GREY_D, 1, "4 4")
hline(phr, HX(768), HX(1485), 30, GREY_D, 1, "4 4")
hline(phr, HX(768), HX(1485), h_rsi_res, RED_L, 1.2)
hline(phr, HX(768), HX(1485), h_rsi_sup, BLUE_L, 1.2)
phr.line(x_h, h_rsi, line_color=ORANGE, line_width=1)
phr.line([HX(1153.5), HX(1301)], [67.5, 72.2], line_color=RED_L, line_width=1.2)
texts(phr, [HX(777)], [HRY(633.3)], ["RSI"], TXT, "11px")
texts(phr, [HX(1043)], [HRY(634.3)], ["RSI resistance"], BLUE_T)
texts(phr, [HX(1300)], [HRY(671)], ["RSI support"], BLUE_T)
badge(phr, HX(1487), h_rsi_res, "84.66", "#f23645")
badge(phr, HX(1487), h_rsi_sup, "12.22", "#2196f3")


# ============================ HEADERS ============================
def header(w, parts):
    p = figure(width=w, height=22, x_range=Range1d(0, 768), y_range=Range1d(0, 22),
               output_backend="svg", toolbar_location=None,
               x_axis_location=None, y_axis_location=None,
               min_border_left=0, min_border_right=0, min_border_top=0, min_border_bottom=0)
    p.background_fill_color = "white"
    p.border_fill_color = "white"
    p.outline_line_color = None
    p.grid.grid_line_color = None
    for xx, tt, cc in parts:
        p.text(x=[xx], y=[11], text=[tt], text_font=value(FONT), text_font_size="10.5px",
               text_color=cc, text_baseline="middle", text_align="left")
    return p


hl = header(LW, [(-1, "FX:GBPUSD, 1D", TXT), (76, "1.39032", TXT), (118, "▲", UP),
                 (130, "+0.00022", TXT), (177, "(+0.02%)", TXT), (223.5, "O:", TXT),
                 (236, "1.39010", UP), (277.5, "H:", TXT), (290, "1.39047", UP),
                 (332.5, "L:", TXT), (342, "1.38962", UP), (384, "C:", TXT),
                 (395.4, "1.39032", UP)])
hr = header(RW, [(1, "FX:GBPUSD, 60", TXT), (80, "1.39032", TXT), (120, "▲", UP),
                 (131, "+0.00022", TXT), (182, "(+0.02%)", TXT), (226, "O:", TXT),
                 (237, "1.39010", UP), (280, "H:", TXT), (291, "1.39047", UP),
                 (335.5, "L:", TXT), (346, "1.38962", UP), (388, "C:", TXT),
                 (399, "1.39032", UP)])


def sep(w, h):
    return Spacer(width=w, height=h, styles={"background-color": SEP})


top = row(pm, sep(2, 336), p4)
bl = column(hl, pdm, pdr)
br = column(hr, ph, phr)
bottom = row(bl, sep(2, 358), br)
layout = column(top, sep(1520, 1), bottom)

open("out.html", "w").write(file_html(layout, INLINE, "GBPUSD"))
